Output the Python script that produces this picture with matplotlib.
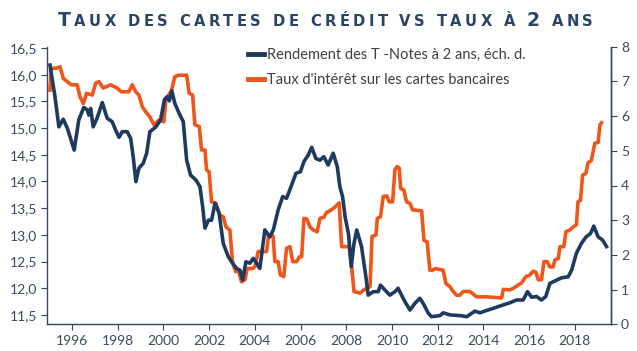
import matplotlib
matplotlib.use('Agg')
import matplotlib.pyplot as plt
import numpy as np

# Rendement des T-Notes à 2 ans (échelle de droite), années décimales
tn_ans = [1995.04, 1995.25, 1995.43, 1995.62, 1995.8, 1996.1, 1996.3, 1996.52, 1996.67, 1996.74,
          1996.82, 1996.93, 1997.1, 1997.33, 1997.54, 1997.76, 1997.91, 1998.06, 1998.2, 1998.42,
          1998.57, 1998.68, 1998.8, 1998.93, 1999.12, 1999.27, 1999.41, 1999.66, 1999.88, 2000.05,
          2000.17, 2000.26, 2000.37, 2000.5, 2000.69, 2000.87, 2001.02, 2001.19, 2001.42, 2001.6,
          2001.72, 2001.82, 2001.97, 2002.11, 2002.26, 2002.44, 2002.62, 2002.84, 2003.03, 2003.2,
          2003.35, 2003.47, 2003.61, 2003.79, 2003.93, 2004.08, 2004.22, 2004.44, 2004.66, 2004.81,
          2005.02, 2005.22, 2005.39, 2005.61, 2005.8, 2006.0, 2006.15, 2006.34, 2006.49, 2006.67,
          2006.85, 2007.02, 2007.21, 2007.43, 2007.61, 2007.72, 2007.84, 2007.95, 2008.1, 2008.22,
          2008.34, 2008.46, 2008.67, 2008.86, 2008.96, 2009.18, 2009.4, 2009.5, 2009.69, 2009.91,
          2010.13, 2010.27, 2010.42, 2010.57, 2010.79, 2011.0, 2011.22, 2011.37, 2011.59, 2011.73,
          2012.1, 2012.24, 2012.54, 2013.0, 2013.27, 2013.63, 2013.85, 2014.14, 2014.43, 2014.87,
          2015.16, 2015.45, 2015.74, 2015.93, 2016.11, 2016.33, 2016.54, 2016.73, 2016.91, 2017.13,
          2017.42, 2017.71, 2017.86, 2018.07, 2018.29, 2018.48, 2018.69, 2018.83, 2019.02, 2019.21,
          2019.39]
tn_val = [7.47, 6.6, 5.69, 5.91, 5.65, 5.02, 5.89, 6.25, 6.18, 6.03,
          6.22, 5.69, 5.94, 6.39, 5.94, 5.84, 5.6, 5.39, 5.55, 5.55,
          5.36, 4.83, 4.11, 4.5, 4.64, 4.93, 5.55, 5.68, 5.89, 6.48,
          6.56, 6.44, 6.73, 6.37, 6.08, 5.84, 4.73, 4.3, 4.16, 3.97,
          3.39, 2.77, 3.0, 3.0, 3.49, 3.2, 2.33, 1.95, 1.76, 1.61,
          1.56, 1.28, 1.8, 1.76, 1.9, 1.76, 1.61, 2.72, 2.52, 2.72,
          3.29, 3.68, 3.63, 4.01, 4.35, 4.4, 4.69, 4.88, 5.1, 4.78,
          4.73, 4.83, 4.59, 4.93, 4.54, 3.97, 3.68, 3.1, 2.6, 1.66,
          2.33, 2.72, 2.24, 1.37, 0.84, 0.94, 0.94, 1.13, 0.99, 0.84,
          0.94, 1.04, 0.84, 0.65, 0.41, 0.6, 0.75, 0.6, 0.32, 0.22,
          0.25, 0.33, 0.27, 0.25, 0.22, 0.38, 0.33, 0.4, 0.46, 0.56,
          0.62, 0.7, 0.7, 0.94, 0.78, 0.8, 0.7, 0.8, 1.18, 1.25,
          1.34, 1.37, 1.56, 2.05, 2.33, 2.51, 2.62, 2.83, 2.52, 2.43,
          2.24]

# Taux d'intérêt sur les cartes bancaires (échelle de gauche)
cb_ans = [1995.04, 1995.1, 1995.33, 1995.48, 1995.62, 1995.8, 1995.97, 1996.23, 1996.35, 1996.5,
          1996.64, 1996.89, 1997.04, 1997.18, 1997.37, 1997.69, 1997.98, 1998.16, 1998.49, 1998.64,
          1998.79, 1998.93, 1999.08, 1999.22, 1999.41, 1999.59, 1999.81, 2000.02, 2000.11, 2000.36,
          2000.5, 2000.65, 2001.02, 2001.13, 2001.28, 2001.38, 2001.57, 2001.67, 2001.82, 2001.89,
          2002.0, 2002.11, 2002.3, 2002.47, 2002.62, 2002.74, 2002.91, 2003.03, 2003.17, 2003.28,
          2003.42, 2003.57, 2003.67, 2003.9, 2004.0, 2004.15, 2004.52, 2004.6, 2004.8, 2004.88,
          2005.02, 2005.12, 2005.27, 2005.39, 2005.54, 2005.66, 2005.83, 2005.95, 2006.05, 2006.15,
          2006.27, 2006.41, 2006.56, 2006.73, 2006.85, 2007.02, 2007.14, 2007.36, 2007.5, 2007.69,
          2007.8, 2008.13, 2008.23, 2008.34, 2008.6, 2008.77, 2008.89, 2009.04, 2009.13, 2009.3,
          2009.36, 2009.5, 2009.62, 2009.77, 2009.88, 2010.03, 2010.13, 2010.23, 2010.32, 2010.38,
          2010.52, 2010.64, 2010.79, 2010.9, 2011.3, 2011.4, 2011.54, 2011.66, 2011.8, 2011.88,
          2012.24, 2012.36, 2012.54, 2012.68, 2012.83, 2012.97, 2013.12, 2013.41, 2013.56, 2013.7,
          2014.14, 2014.8, 2014.87, 2015.16, 2015.31, 2015.45, 2015.67, 2015.86, 2016.03, 2016.18,
          2016.3, 2016.4, 2016.54, 2016.65, 2016.79, 2016.91, 2017.05, 2017.13, 2017.28, 2017.35,
          2017.52, 2017.61, 2017.78, 2017.93, 2018.07, 2018.14, 2018.25, 2018.34, 2018.48, 2018.58,
          2018.72, 2018.88, 2019.02, 2019.1, 2019.17]
cb_val = [15.71, 16.12, 16.12, 16.15, 15.93, 15.87, 15.81, 15.81, 15.59, 15.46,
          15.65, 15.62, 15.84, 15.87, 15.75, 15.81, 15.75, 15.68, 15.68, 15.81,
          15.68, 15.62, 15.4, 15.31, 15.21, 15.06, 15.15, 15.12, 15.53, 15.71,
          15.96, 15.99, 15.99, 15.65, 15.62, 15.06, 15.03, 14.59, 14.59, 14.22,
          14.18, 13.62, 13.59, 13.37, 13.34, 13.15, 13.09, 12.47, 12.31, 12.34,
          12.12, 12.16, 12.37, 12.37, 12.40, 12.69, 12.69, 13.0, 12.98, 12.5,
          12.5, 12.25, 12.22, 12.75, 12.78, 12.5, 12.5, 12.59, 12.59, 13.31,
          13.3, 13.15, 13.09, 13.06, 13.31, 13.33, 13.42, 13.47, 13.52, 13.6,
          12.78, 12.78, 12.44, 11.94, 11.91, 11.97, 12.0, 12.03, 12.97, 13.0,
          13.31, 13.34, 13.72, 13.73, 13.62, 13.62, 14.22, 14.28, 14.25, 13.87,
          13.84, 13.62, 13.59, 13.47, 13.45, 12.9, 12.87, 12.34, 12.34, 12.37,
          12.34, 12.09, 12.03, 11.94, 11.87, 11.87, 11.94, 11.94, 11.89, 11.84,
          11.84, 11.82, 11.98, 11.97, 12.0, 12.04, 12.1, 12.22, 12.25, 12.32,
          12.3, 12.16, 12.16, 12.5, 12.5, 12.4, 12.4, 12.53, 12.56, 12.78,
          12.78, 13.06, 13.09, 13.15, 13.19, 13.62, 13.65, 14.12, 14.15, 14.35,
          14.39, 14.72, 14.73, 15.06, 15.1]

annees_ticks = list(range(1996, 2019, 2))
gauche_ticks = [11.5, 12.0, 12.5, 13.0, 13.5, 14.0, 14.5, 15.0, 15.5, 16.0, 16.5]
droite_ticks = [0, 1, 2, 3, 4, 5, 6, 7, 8]

navy = '#1f3a5f'
orange = '#f0561a'
gris = '#3c4a5c'

plt.rcParams['font.family'] = ['Lato', 'DejaVu Sans']

fig = plt.figure(figsize=(6.37, 3.51), dpi=100)
ax = fig.add_axes([47 / 637, 1 - 324.3 / 351, (610.7 - 47) / 637, (324.3 - 46.7) / 351])
ax2 = ax.twinx()

ax.plot(cb_ans, cb_val, color=orange, lw=2.6, solid_joinstyle='round',
        label="Taux d'intérêt sur les cartes bancaires")
ax2.plot(tn_ans, tn_val, color=navy, lw=2.6, solid_joinstyle='round',
         label='Rendement des T -Notes à 2 ans, éch. d.')

ax.set_xlim(1994.91, 2019.57)
ax.set_ylim(11.326, 16.524)
ax2.set_ylim(0, 8)

ax.set_xticks(annees_ticks)
ax.set_xticklabels([str(a) for a in annees_ticks])
ax.set_yticks(gauche_ticks)
ax.set_yticklabels([f'{v:.1f}'.replace('.', ',') for v in gauche_ticks])
ax2.set_yticks(droite_ticks)

for a in (ax, ax2):
    a.spines['top'].set_visible(False)
    for s in ('left', 'right', 'bottom'):
        a.spines[s].set_color('#34475f')
        a.spines[s].set_linewidth(1.0)
    a.tick_params(colors='#34475f', labelcolor=gris, labelsize=10, length=4, width=0.8, direction='out')
ax2.spines['left'].set_visible(False)
ax2.spines['bottom'].set_visible(False)
ax.tick_params(axis='y', pad=3)
ax.tick_params(axis='x', pad=4)

h1, l1 = ax.get_legend_handles_labels()
h2, l2 = ax2.get_legend_handles_labels()
leg = ax2.legend(h2 + h1, l2 + l1, loc='upper left', bbox_to_anchor=(242 / 637, 1 - 42 / 351),
                 bbox_transform=fig.transFigure, frameon=False, fontsize=10.5,
                 handlelength=1.1, handletextpad=0.2, labelspacing=0.75, borderaxespad=0)
for t in leg.get_texts():
    t.set_color('#404040')
for h in leg.get_lines():
    h.set_linewidth(3.5)

# Titre en petites capitales, lettre par lettre pour élargir l'espacement
titre = 'Taux des cartes de crédit vs taux à 2 ans'
grand, petit = 13.5, 10.6
renderer = fig.canvas.get_renderer()
lettres = []
largeurs = []
for c in titre:
    taille = grand if (c.isupper() or c.isdigit()) else petit
    if c == ' ':
        lettres.append(None)
        largeurs.append(5.0)
        continue
    t = fig.text(0, 0, c.upper(), fontsize=taille, color='#2b4466', family='DejaVu Sans',
                 weight='bold', va='baseline', ha='left')
    lettres.append(t)
    largeurs.append(t.get_window_extent(renderer).width)
x0, x1 = 58.0, 592.7
espace = (x1 - x0 - sum(largeurs)) / (len(titre) - 1)
x = x0
for t, w in zip(lettres, largeurs):
    if t is not None:
        t.set_position((x / 637, 1 - 26 / 351))
    x += w + espace

fig.savefig('out.png', dpi=100)
